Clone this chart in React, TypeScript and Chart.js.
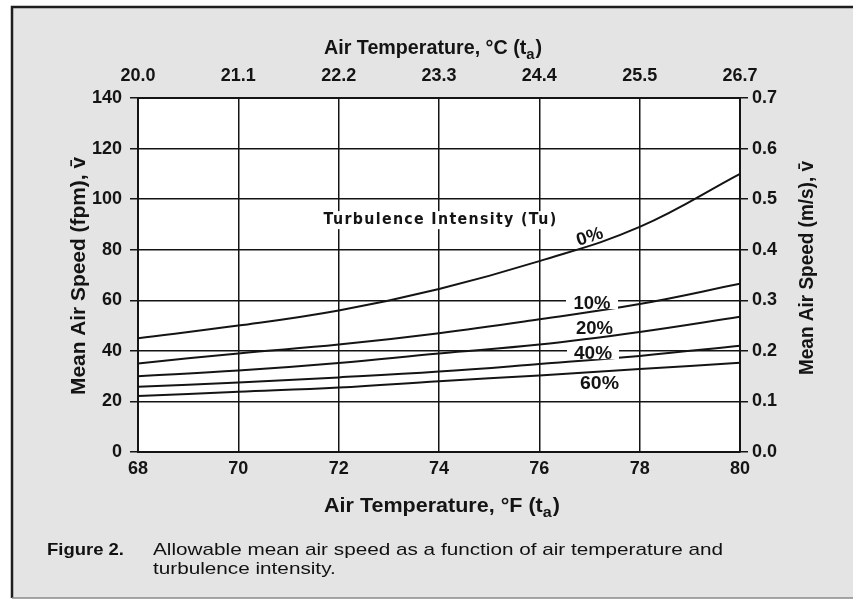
import React, { useEffect, useRef } from 'react';
import { Chart, registerables } from 'chart.js';

Chart.register(...registerables);

// ---- data ----
const fahrenheitTicks = [68, 70, 72, 74, 76, 78, 80];
const celsiusLabels = ['20.0', '21.1', '22.2', '23.3', '24.4', '25.5', '26.7'];
const tu0 = [45, 50, 56, 64.5, 75.5, 89, 110];
const tu10 = [35, 39, 42.5, 47, 52.5, 58.5, 66.5];
const tu20 = [30, 32.2, 35.2, 39, 42.5, 47.5, 53.5];
const tu40 = [25.8, 27.5, 29.5, 31.8, 34.8, 38, 42];
const tu60 = [22.1, 23.8, 25.5, 28, 30.3, 32.8, 35.3];
const seriesNames = ['0%', '10%', '20%', '40%', '60%'];
const fpmTicks = [0, 20, 40, 60, 80, 100, 120, 140];
const msTicks = [0, 0.1, 0.2, 0.3, 0.4, 0.5, 0.6, 0.7];

// label anchors (data units)
const curveLabels = [
  { text: '0%', x: 77.0, y: 85.4, rot: -18, box: false, w: 27 },
  { text: '10%', x: 77.05, y: 58.9, rot: 0, box: true, w: 37 },
  { text: '20%', x: 77.1, y: 49.0, rot: 0, box: false, w: 37 },
  { text: '40%', x: 77.07, y: 39.1, rot: 0, box: true, w: 38 },
  { text: '60%', x: 77.2, y: 27.3, rot: 0, box: false, w: 39 },
];

const SANS = "'Liberation Sans', Arial, Helvetica, sans-serif";
const INK = '#141414';

function fitText(ctx: CanvasRenderingContext2D, text: string, x: number, y: number, font: string, width?: number, align: CanvasTextAlign = 'center', baseline: CanvasTextBaseline = 'alphabetic') {
  ctx.save();
  ctx.font = font;
  const w = ctx.measureText(text).width;
  const sx = width ? width / w : 1;
  ctx.translate(x, y);
  ctx.scale(sx, 1);
  ctx.textAlign = align;
  ctx.textBaseline = baseline;
  ctx.fillText(text, 0, 0);
  ctx.restore();
  return sx;
}

function subTitle(ctx: CanvasRenderingContext2D, main: string, sub: string, tail: string, cx: number, baseY: number, target: number) {
  const fMain = `bold 20px ${SANS}`;
  const fSub = `bold 15px ${SANS}`;
  ctx.save();
  ctx.font = fMain;
  const w1 = ctx.measureText(main).width;
  const w3 = ctx.measureText(tail).width;
  ctx.font = fSub;
  const w2 = ctx.measureText(sub).width;
  const total = w1 + w2 + w3 + 1;
  const s = target / total;
  ctx.translate(cx - target / 2, baseY);
  ctx.scale(s, 1);
  ctx.textAlign = 'left';
  ctx.textBaseline = 'alphabetic';
  ctx.fillStyle = INK;
  ctx.font = fMain;
  ctx.fillText(main, 0, 0);
  ctx.font = fSub;
  ctx.fillText(sub, w1, 5);
  ctx.font = fMain;
  ctx.fillText(tail, w1 + w2 + 1, 0);
  ctx.restore();
}

function vTitle(ctx: CanvasRenderingContext2D, text: string, cx: number, cy: number, len: number) {
  ctx.save();
  ctx.translate(cx, cy);
  ctx.rotate(-Math.PI / 2);
  ctx.fillStyle = INK;
  fitText(ctx, text, 0, 0, `bold 20px ${SANS}`, len, 'center', 'middle');
  ctx.restore();
}

const decorPlugin = {
  id: 'decor',
  beforeDraw(chart: any) {
    const ctx: CanvasRenderingContext2D = chart.ctx;
    const { width, height } = chart;
    const a = chart.chartArea;
    ctx.save();
    ctx.fillStyle = '#ffffff';
    ctx.fillRect(0, 0, width, height);
    ctx.fillStyle = '#e4e4e4';
    ctx.fillRect(12, 7, width - 12, 598 - 7);
    ctx.strokeStyle = '#1e1e1e';
    ctx.lineWidth = 2.5;
    ctx.beginPath();
    ctx.moveTo(12, 598);
    ctx.lineTo(12, 7);
    ctx.lineTo(width, 7);
    ctx.stroke();
    ctx.strokeStyle = '#8a8a8a';
    ctx.lineWidth = 1.5;
    ctx.beginPath();
    ctx.moveTo(12, 598);
    ctx.lineTo(width, 598);
    ctx.stroke();
    ctx.fillStyle = '#ffffff';
    ctx.fillRect(a.left, a.top, a.right - a.left, a.bottom - a.top);
    ctx.restore();
  },
  afterDraw(chart: any) {
    const ctx: CanvasRenderingContext2D = chart.ctx;
    const xs = chart.scales.x;
    const ys = chart.scales.y;
    ctx.save();
    ctx.fillStyle = INK;

    // axis titles
    subTitle(ctx, 'Air Temperature, °C (t', 'a', ')', 433, 54, 218);
    subTitle(ctx, 'Air Temperature, °F (t', 'a', ')', 442, 512, 236);
    vTitle(ctx, 'Mean Air Speed (fpm), v\u0304', 79, 276, 238);
    vTitle(ctx, 'Mean Air Speed (m/s), v\u0304', 807, 268, 214);

    // turbulence heading
    const tx = xs.getPixelForValue(74.03);
    const ty = ys.getPixelForValue(91.7);
    ctx.fillStyle = '#ffffff';
    ctx.fillRect(tx - 121, ty - 9, 242, 18);
    ctx.fillStyle = INK;
    ctx.save();
    (ctx as any).letterSpacing = '1.5px';
    fitText(ctx, 'Turbulence Intensity (Tu)', tx, ty, `bold 16px 'DejaVu Sans', ${SANS}`, 234, 'center', 'middle');
    ctx.restore();

    // curve labels
    for (const l of curveLabels) {
      const px = xs.getPixelForValue(l.x);
      const py = ys.getPixelForValue(l.y);
      ctx.save();
      ctx.translate(px, py);
      ctx.rotate((l.rot * Math.PI) / 180);
      if (l.box) {
        ctx.fillStyle = '#ffffff';
        ctx.fillRect(-26, -6, 52, 12);
      }
      ctx.fillStyle = INK;
      fitText(ctx, l.text, 0, 1, `bold 18px ${SANS}`, l.w, 'center', 'middle');
      ctx.restore();
    }

    // caption
    ctx.fillStyle = '#111';
    fitText(ctx, 'Figure 2.', 47, 555, `bold 17px ${SANS}`, 77, 'left');
    const s = fitText(ctx, 'Allowable mean air speed as a function of air temperature and', 153, 555, `17px ${SANS}`, 570, 'left');
    ctx.save();
    ctx.font = `17px ${SANS}`;
    const w2 = ctx.measureText('turbulence intensity.').width;
    ctx.restore();
    fitText(ctx, 'turbulence intensity.', 153, 574, `17px ${SANS}`, w2 * s, 'left');
    ctx.restore();
  },
};

export default function App() {
  const ref = useRef<HTMLCanvasElement | null>(null);
  useEffect(() => {
    if (!ref.current) return;
    const mk = (vals: number[]) => fahrenheitTicks.map((x, i) => ({ x, y: vals[i] }));
    const all = [tu0, tu10, tu20, tu40, tu60];
    const tickFont = { family: SANS, size: 18, weight: 'bold' as const };
    const chart = new Chart(ref.current, {
      type: 'line',
      data: {
        datasets: all.map((v, i) => ({
          label: seriesNames[i],
          data: mk(v),
          borderColor: INK,
          borderWidth: 2,
          pointRadius: 0,
          fill: false,
          tension: 0.4,
          xAxisID: 'x',
          yAxisID: 'y',
        })),
      },
      options: {
        responsive: false,
        animation: false,
        events: [],
        layout: { padding: 0 },
        plugins: { legend: { display: false }, tooltip: { enabled: false }, title: { display: false } },
        scales: {
          x: {
            type: 'linear',
            position: 'bottom',
            min: fahrenheitTicks[0],
            max: fahrenheitTicks[fahrenheitTicks.length - 1],
            afterBuildTicks: (s: any) => { s.ticks = fahrenheitTicks.map((v) => ({ value: v })); },
            ticks: { font: tickFont, color: INK, padding: 6, maxRotation: 0, autoSkip: false, callback: (v: any) => String(v) },
            grid: { color: INK, lineWidth: 1.5, drawTicks: false },
            border: { color: INK, width: 2 },
            afterFit: (s: any) => { s.height = 150; },
          },
          x2: {
            type: 'linear',
            position: 'top',
            min: fahrenheitTicks[0],
            max: fahrenheitTicks[fahrenheitTicks.length - 1],
            afterBuildTicks: (s: any) => { s.ticks = fahrenheitTicks.map((v) => ({ value: v })); },
            ticks: { font: tickFont, color: INK, padding: 11, maxRotation: 0, autoSkip: false, callback: (_v: any, i: number) => celsiusLabels[i] },
            grid: { drawOnChartArea: false, drawTicks: false },
            border: { color: INK, width: 2 },
            afterFit: (s: any) => { s.height = 98; },
          },
          y: {
            type: 'linear',
            position: 'left',
            min: fpmTicks[0],
            max: fpmTicks[fpmTicks.length - 1],
            afterBuildTicks: (s: any) => { s.ticks = fpmTicks.map((v) => ({ value: v })); },
            ticks: { font: tickFont, color: INK, padding: 8, callback: (v: any) => String(v) },
            grid: { color: INK, lineWidth: 1.5, tickLength: 8 },
            border: { color: INK, width: 2 },
            afterFit: (s: any) => { s.width = 138; },
          },
          y2: {
            type: 'linear',
            position: 'right',
            min: msTicks[0],
            max: msTicks[msTicks.length - 1],
            afterBuildTicks: (s: any) => { s.ticks = msTicks.map((v) => ({ value: v })); },
            ticks: { font: tickFont, color: INK, padding: 4, callback: (v: any) => Number(v).toFixed(1) },
            grid: { drawOnChartArea: false, color: INK, lineWidth: 1.5, tickLength: 8 },
            border: { color: INK, width: 2 },
            afterFit: (s: any) => { s.width = 113; },
          },
        },
      },
      plugins: [decorPlugin],
    });
    return () => chart.destroy();
  }, []);
  return (
    <div style={{ position: 'absolute', left: 0, top: 0, width: 853, height: 602 }}>
      <canvas ref={ref} width={853} height={602} style={{ display: 'block', width: 853, height: 602 }} />
    </div>
  );
}
